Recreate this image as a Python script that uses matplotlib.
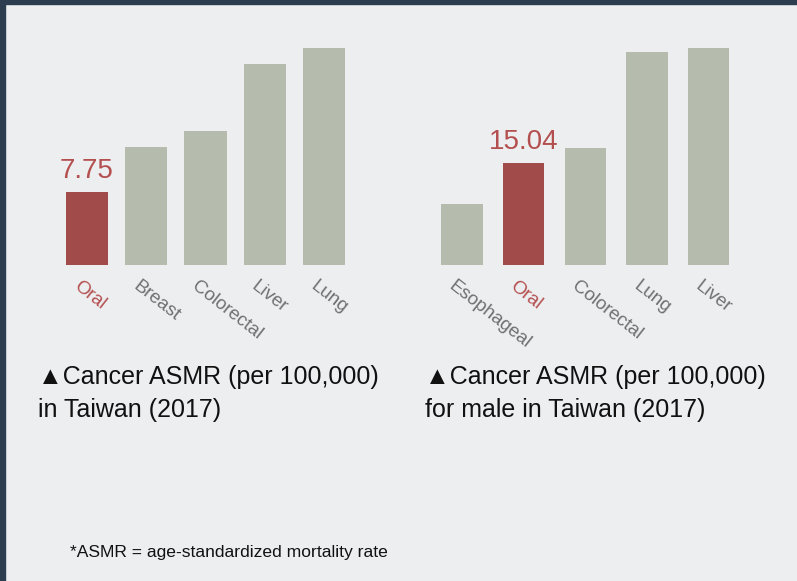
import matplotlib
matplotlib.use("Agg")
import matplotlib.pyplot as plt
from matplotlib.patches import Rectangle
from matplotlib.transforms import ScaledTranslation

# data
left_cats = ["Oral", "Breast", "Colorectal", "Liver", "Lung"]
left_vals = [7.75, 12.5, 14.2, 21.4, 23.0]
right_cats = ["Esophageal", "Oral", "Colorectal", "Lung", "Liver"]
right_vals = [9.0, 15.04, 17.3, 31.4, 32.0]
highlight = "Oral"

left_caption = ["\u25b2Cancer ASMR (per 100,000)", "in Taiwan (2017)"]
right_caption = ["\u25b2Cancer ASMR (per 100,000)", "for male in Taiwan (2017)"]
footnote = "*ASMR = age-standardized mortality rate"

# styles
BG = "#edeef0"
GREY_BAR = "#b5bcad"
RED_BAR = "#a24b4b"
RED_TXT = "#b44f4f"
GREY_TXT = "#707070"
BORDER = "#2b3d4f"
FONT = ["Liberation Sans", "DejaVu Sans"]

W, H = 797, 581
fig = plt.figure(figsize=(W / 100, H / 100), dpi=100, facecolor=BG)

# dark frame on top and left
fig.patches.append(Rectangle((0, 1 - 4 / H), 1, 4 / H, transform=fig.transFigure,
                             color=BORDER, zorder=10))
fig.patches.append(Rectangle((0, 0), 5 / W, 1, transform=fig.transFigure,
                             color=BORDER, zorder=10))


def draw(rect, cats, vals, ymax, width):
    ax = fig.add_axes(rect)
    ax.set_facecolor("none")
    colors = [RED_BAR if c == highlight else GREY_BAR for c in cats]
    x = range(len(cats))
    bars = ax.bar(x, vals, width=width, color=colors)
    ax.set_xlim(-0.5, len(cats) - 0.5)
    ax.set_ylim(0, ymax)
    for s in ax.spines.values():
        s.set_visible(False)
    ax.set_yticks([])
    ax.set_xticks(list(x))
    ax.set_xticklabels(cats, rotation=-38, ha="left", va="top",
                       rotation_mode="anchor", fontsize=13.5, family=FONT)
    ax.tick_params(axis="x", length=0, pad=9)
    off = ScaledTranslation(-6 / 100, 0, fig.dpi_scale_trans)
    for lab, c in zip(ax.get_xticklabels(), cats):
        lab.set_color(RED_TXT if c == highlight else GREY_TXT)
        lab.set_transform(lab.get_transform() + off)
    for b, c, v in zip(bars, cats, vals):
        if c == highlight:
            ax.annotate(f"{v:.2f}", (b.get_x() + b.get_width() / 2, v),
                        xytext=(0, 10), textcoords="offset points",
                        ha="center", va="baseline", fontsize=20,
                        color=RED_TXT, family=FONT)
    return ax


base = (H - 265) / H
height = (265 - 40) / H
draw([57.4 / W, base, 296.2 / W, height], left_cats, left_vals, 23.9, 0.71)
draw([431 / W, base, 308.5 / W, height], right_cats, right_vals, 33.2, 0.67)

for x0, lines in [(38, left_caption), (425, right_caption)]:
    for i, line in enumerate(lines):
        fig.text(x0 / W, 1 - (384 + 33 * i) / H, line, ha="left", va="baseline",
                 fontsize=18, family=FONT, color="#111111")
fig.text(70 / W, 1 - 557 / H, footnote, ha="left", va="baseline",
         fontsize=12.6, family=FONT, color="#111111")

fig.savefig("out.png", dpi=100, facecolor=BG)
